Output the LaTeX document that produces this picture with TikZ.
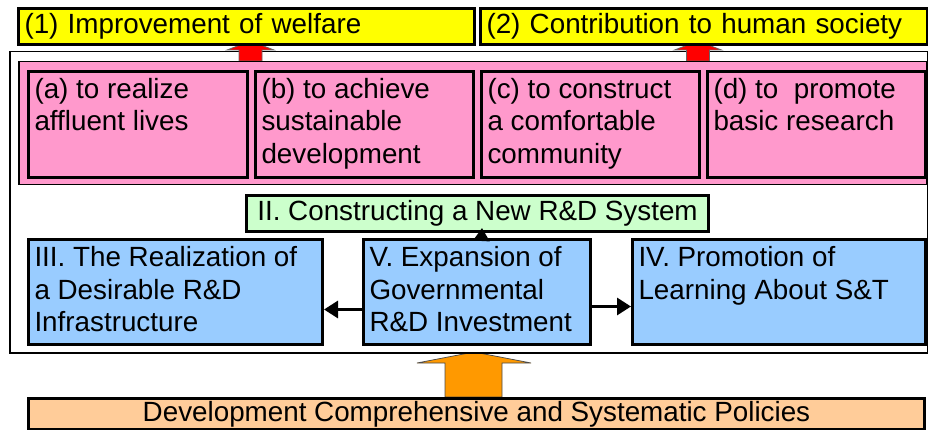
\documentclass[tikz,border=0pt]{standalone}
\usepackage{fontspec}
\setmainfont{Liberation Sans}
\usetikzlibrary{arrows.meta}

\definecolor{goalyellow}{HTML}{FFFF00}
\definecolor{aimpink}{HTML}{FF99CC}
\definecolor{sysgreen}{HTML}{CCFFCC}
\definecolor{measblue}{HTML}{99CCFF}
\definecolor{policyorange}{HTML}{FFCC99}
\definecolor{pushorange}{HTML}{FF9900}

% text block pinned to the top of a box
\newcommand{\topcell}[3]{\parbox[c][#2pt][t]{#1pt}{\rule{0pt}{27pt}#3}}

\tikzset{
  every node/.style={font=\fontsize{27.8}{32.5}\selectfont, anchor=north west,
    inner xsep=6pt, inner ysep=0pt},
  goal/.style={draw, line width=3pt, fill=goalyellow, minimum height=36pt, align=left},
  aim/.style={draw, line width=3pt, fill=aimpink},
  measure/.style={draw, line width=3pt, fill=measblue},
  conn/.style={line width=3pt, -{Triangle[length=14pt,width=17pt]}},
  uparrow/.style={draw=black!60, line width=0.75pt, fill=red},
  pusharrow/.style={draw=black!70, line width=0.75pt, fill=pushorange}
}

\begin{document}
\begin{tikzpicture}[x=1pt,y=-1pt]
    \useasboundingbox (0,0) rectangle (928,430);

    % big arrow from the policies
    \draw[pusharrow] (445,397) -- (445,363) -- (417,363) -- (474,352)
        -- (531,363) -- (502,363) -- (502,397) -- cycle;

    \node[draw, line width=1.5pt, fill=white, minimum width=918pt,
        minimum height=301pt, inner sep=0pt] (frame) at (9,51) {};

    % arrows up to the goals
    \foreach \cx in {250.5,698} {
        \draw[uparrow] (\cx-11.5,61) -- (\cx-11.5,50) -- (\cx-23.5,50) -- (\cx,41)
            -- (\cx+23.5,50) -- (\cx+11.5,50) -- (\cx+11.5,61) -- cycle; }

    \node[draw, line width=1.5pt, fill=aimpink, minimum width=908pt,
        minimum height=123pt, inner sep=0pt] (aims) at (18,61) {};
    \node[aim] (aimA) at (27,70)  {\topcell{207}{106}{(a) to realize\\affluent lives}};
    \node[aim] (aimB) at (254,70) {\topcell{206}{106}{(b) to achieve\\sustainable\\development}};
    \node[aim] (aimC) at (480,70) {\topcell{206}{106}{(c) to construct\\a comfortable\\community}};
    \node[aim] (aimD) at (706,70) {\topcell{206}{106}{(d) to\ \ promote\\basic research}};

    \node[goal, text width=444pt] (welfare) at (17,7) {(1) Improvement of welfare};
    \node[goal, text width=435pt] (society) at (479,7) {(2) Contribution to human society};

    \node[draw, line width=3pt, fill=sysgreen, minimum width=462pt,
        minimum height=36pt] (system) at (245,194) {II. Constructing a New R\&D System};

    \node[measure] (infra) at (27,238)
        {\topcell{282}{105}{III. The Realization of\\a Desirable R\&D\\Infrastructure}};
    \node[measure] (invest) at (362,238)
        {\topcell{215}{105}{V. Expansion of\\Governmental\\R\&D Investment}};
    \node[measure] (learning) at (631,238)
        {\topcell{281}{105}{IV. Promotion of\\Learning About S\&T}};

    \draw[conn] ([yshift=-17.5pt]invest.west) -- ([yshift=-17.5pt]infra.east);
    \draw[conn] ([yshift=-14.5pt]invest.east) -- ([yshift=-14.5pt]learning.west);
    \draw[line width=3pt, -{Triangle[length=13pt,width=16pt]}]
        ([xshift=4.5pt]invest.north) -- ([xshift=4.5pt,yshift=5pt]system.south);

    \node[draw, line width=3pt, fill=policyorange, minimum width=896pt,
        minimum height=31pt] (policy) at (27,397)
        {Development Comprehensive and Systematic Policies};
\end{tikzpicture}
\end{document}
